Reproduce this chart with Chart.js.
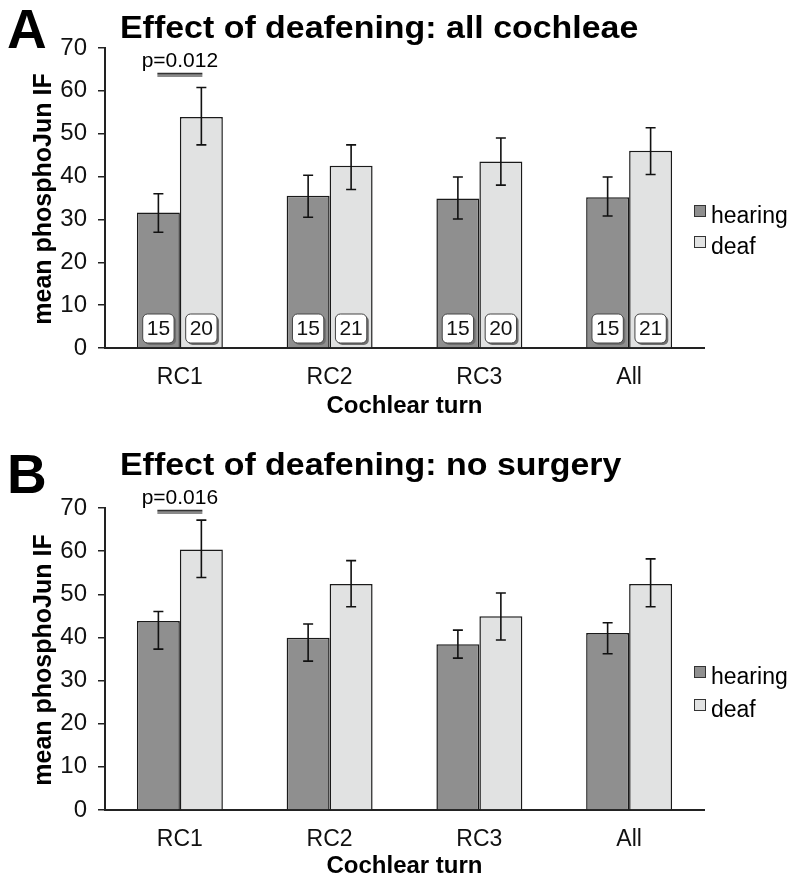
<!DOCTYPE html>
<html>
<head>
<meta charset="utf-8">
<script src="https://cdn.jsdelivr.net/npm/chart.js@4.4.1/dist/chart.umd.min.js"></script>
<style>
  html, body { margin: 0; padding: 0; background: #fff; }
  .panel { position: absolute; left: 0; width: 800px; height: 442px; }
  #panel-a { top: 0; }
  #panel-b { top: 442px; }
</style>
</head>
<body>
<div class="panel" id="panel-a"><canvas id="chart-a" width="800" height="442"></canvas></div>
<div class="panel" id="panel-b"><canvas id="chart-b" width="800" height="442"></canvas></div>
<script>
const FONT = '"Liberation Sans", Arial, Helvetica, sans-serif';
const categories = ["RC1", "RC2", "RC3", "All"];
const seriesNames = ["hearing", "deaf"];
const Y_MIN = 0;
const Y_MAX = 70;
const Y_STEP = 10;

// A: all cochleae
const hearingAll = [31.6, 35.5, 34.9, 35.2];
const hearingAllHi = [36.0, 40.3, 39.9, 39.9];
const hearingAllLo = [27.0, 30.5, 30.1, 30.8];
const deafAll = [53.9, 42.5, 43.5, 46.0];
const deafAllHi = [60.8, 47.4, 49.0, 51.4];
const deafAllLo = [47.4, 37.0, 38.0, 40.5];
const nHearingAll = [15, 15, 15, 15];
const nDeafAll = [20, 21, 20, 21];

// B: no surgery
const hearingNoSurg = [43.8, 39.9, 38.4, 41.0];
const hearingNoSurgHi = [46.0, 43.1, 41.7, 43.4];
const hearingNoSurgLo = [37.3, 34.5, 35.2, 36.2];
const deafNoSurg = [60.4, 52.4, 44.9, 52.4];
const deafNoSurgHi = [67.2, 57.8, 50.3, 58.2];
const deafNoSurgLo = [53.9, 47.1, 39.4, 47.1];

const colors = ["#8f8f8f", "#e1e2e2"];

const panelDecor = {
  id: "panelDecor",
  afterDatasetsDraw(chart, args, opts) {
    const { ctx } = chart;
    const y = chart.scales.y;
    ctx.save();
    chart.data.datasets.forEach((ds, i) => {
      const meta = chart.getDatasetMeta(i);
      meta.data.forEach((bar, j) => {
        const top = y.getPixelForValue(ds.errHi[j]);
        const bot = y.getPixelForValue(ds.errLo[j]);
        ctx.strokeStyle = "#111";
        ctx.lineWidth = 1.6;
        ctx.beginPath();
        ctx.moveTo(bar.x, top); ctx.lineTo(bar.x, bot);
        ctx.moveTo(bar.x - 5, top); ctx.lineTo(bar.x + 5, top);
        ctx.moveTo(bar.x - 5, bot); ctx.lineTo(bar.x + 5, bot);
        ctx.stroke();
        if (ds.counts) {
          const label = String(ds.counts[j]);
          ctx.font = `21px ${FONT}`;
          const w = ctx.measureText(label).width + 8;
          const h = 29;
          const bx = bar.x - w / 2;
          const by = y.getPixelForValue(0) - 5 - h;
          ctx.fillStyle = "#6f6f6f";
          ctx.beginPath(); ctx.roundRect(bx + 2, by + 2, w, h, 5); ctx.fill();
          ctx.fillStyle = "#fff";
          ctx.strokeStyle = "#444";
          ctx.lineWidth = 1;
          ctx.beginPath(); ctx.roundRect(bx, by, w, h, 5); ctx.fill(); ctx.stroke();
          ctx.fillStyle = "#111";
          ctx.textAlign = "center";
          ctx.textBaseline = "middle";
          ctx.fillText(label, bar.x, by + h / 2 + 1);
        }
      });
    });
    ctx.restore();
  },
  afterDraw(chart, args, opts) {
    const { ctx, chartArea } = chart;
    ctx.save();
    ctx.fillStyle = "#000";
    ctx.textAlign = "left";
    ctx.textBaseline = "alphabetic";
    ctx.font = `bold 55px ${FONT}`;
    ctx.fillText(opts.letter, 7, opts.letterY);
    ctx.save();
    ctx.translate(120, opts.titleY);
    ctx.scale(1.06, 1);
    ctx.font = `bold 32px ${FONT}`;
    ctx.fillText(opts.title, 0, 0);
    ctx.restore();

    // axis titles
    ctx.font = `bold 24px ${FONT}`;
    ctx.textAlign = "center";
    ctx.fillText("Cochlear turn", (chartArea.left + chartArea.right) / 2, opts.xTitleY);
    ctx.save();
    ctx.translate(44, (chartArea.top + chartArea.bottom) / 2 + 1);
    ctx.rotate(-Math.PI / 2);
    ctx.textBaseline = "middle";
    ctx.font = `bold 25px ${FONT}`;
    ctx.fillText("mean phosphoJun IF", 0, 0);
    ctx.restore();

    // legend
    ctx.font = `23px ${FONT}`;
    ctx.textAlign = "left";
    chart.data.datasets.forEach((ds, i) => {
      const sy = opts.legendY[i];
      ctx.fillStyle = ds.backgroundColor;
      ctx.fillRect(694, sy, 12, 12);
      ctx.strokeStyle = "#333";
      ctx.lineWidth = 1;
      ctx.strokeRect(694.5, sy + 0.5, 11, 11);
      ctx.fillStyle = "#000";
      ctx.fillText(ds.label, 711, sy + 18);
    });

    // significance marker over first category
    const x0 = chart.getDatasetMeta(0).data[0].x;
    const x1 = chart.getDatasetMeta(1).data[0].x;
    ctx.font = `21px ${FONT}`;
    ctx.textAlign = "center";
    ctx.fillText(opts.pText, (x0 + x1) / 2, opts.pY);
    ctx.strokeStyle = "#8a8a8a";
    ctx.lineWidth = 3;
    ctx.beginPath(); ctx.moveTo(x0 - 1, opts.pY + 9); ctx.lineTo(x1 + 1, opts.pY + 9); ctx.stroke();
    ctx.strokeStyle = "#333";
    ctx.lineWidth = 1.3;
    ctx.beginPath(); ctx.moveTo(x0 - 1, opts.pY + 7); ctx.lineTo(x1 + 1, opts.pY + 7); ctx.stroke();
    ctx.restore();
  },
};

function makeDataset(label, values, hi, lo, color, counts) {
  return {
    label,
    data: values,
    errHi: hi,
    errLo: lo,
    counts,
    backgroundColor: color,
    borderColor: "#1a1a1a",
    borderWidth: 1.5,
    categoryPercentage: 0.574,
    barPercentage: 1.0,
  };
}

function buildChart(canvasId, datasets, decor) {
  return new Chart(document.getElementById(canvasId), {
    type: "bar",
    data: { labels: categories, datasets },
    options: {
      responsive: false,
      animation: false,
      devicePixelRatio: 1,
      layout: { padding: { top: decor.plotTop, right: 96, bottom: 0, left: 0 } },
      plugins: {
        legend: { display: false },
        tooltip: { enabled: false },
        panelDecor: decor,
      },
      scales: {
        x: {
          afterFit: (scale) => { scale.height = 442 - decor.plotBottom; },
          grid: { display: false, drawTicks: false },
          border: { display: true, color: "#222", width: 2 },
          ticks: { color: "#111", padding: 16, font: { family: FONT, size: 23 } },
        },
        y: {
          min: Y_MIN,
          max: Y_MAX,
          afterFit: (scale) => { scale.width = 105; },
          grid: { drawOnChartArea: false, drawTicks: true, tickLength: 7, color: "#222", lineWidth: 1.5 },
          border: { display: true, color: "#222", width: 2 },
          ticks: { stepSize: Y_STEP, color: "#111", padding: 11, font: { family: FONT, size: 24 } },
        },
      },
    },
    plugins: [panelDecor],
  });
}

buildChart("chart-a", [
  makeDataset(seriesNames[0], hearingAll, hearingAllHi, hearingAllLo, colors[0], nHearingAll),
  makeDataset(seriesNames[1], deafAll, deafAllHi, deafAllLo, colors[1], nDeafAll),
], {
  letter: "A", letterY: 48,
  title: "Effect of deafening: all cochleae", titleY: 38,
  plotTop: 48, plotBottom: 348,
  xTitleY: 413,
  legendY: [205, 236],
  pText: "p=0.012", pY: 66.5,
});

buildChart("chart-b", [
  makeDataset(seriesNames[0], hearingNoSurg, hearingNoSurgHi, hearingNoSurgLo, colors[0], null),
  makeDataset(seriesNames[1], deafNoSurg, deafNoSurgHi, deafNoSurgLo, colors[1], null),
], {
  letter: "B", letterY: 51,
  title: "Effect of deafening: no surgery", titleY: 33,
  plotTop: 66, plotBottom: 368,
  xTitleY: 431,
  legendY: [224, 257],
  pText: "p=0.016", pY: 61.5,
});
</script>
</body>
</html>
